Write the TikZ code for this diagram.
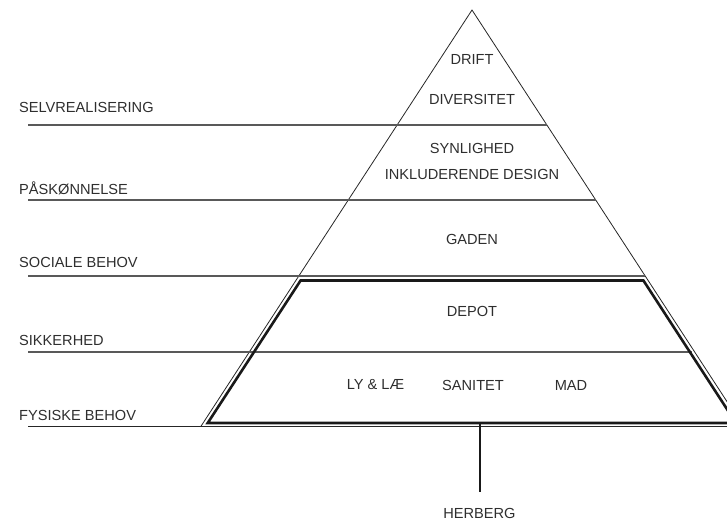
\documentclass[tikz,border=0pt]{standalone}
\usepackage{fontspec}
\setmainfont{Liberation Sans}
\begin{document}
\begin{tikzpicture}[x=1pt,y=-1pt,
  lbl/.style={font=\fontsize{14.6}{16}\selectfont, text=black!82, inner sep=0pt},
  thinline/.style={draw=black!85, line width=0.8pt},
  levelline/.style={draw=black!65, line width=1.2pt},
  thickline/.style={draw=black!90, line width=2.6pt, line join=miter},
  stem/.style={draw=black!90, line width=2.4pt}]
\useasboundingbox (0,0) rectangle (727,523);
\clip (0,0) rectangle (727,523);
% pyramid corners
\coordinate (apex) at (472,10);
\coordinate (bl) at (200.8,426.5);
\coordinate (br) at (743.2,426.5);
% pyramid outline
\draw[thinline] (bl) -- (apex) -- (br);
% level lines
\coordinate (l1a) at (28,125);  \coordinate (l1b) at (547,125);
\coordinate (l2a) at (28,200);  \coordinate (l2b) at (595.9,200);
\coordinate (l3a) at (28,276);  \coordinate (l3b) at (645.4,276);
\coordinate (l4a) at (28,352);  \coordinate (l4b) at (692,352);
\coordinate (l5a) at (28,426.5);\coordinate (l5b) at (740,426.5);
\draw[levelline] (l1a) -- (l1b);
\draw[levelline] (l2a) -- (l2b);
\draw[levelline] (l3a) -- (l3b);
\draw[levelline] (l4a) -- (l4b);
\draw[thinline, line width=1pt] (l5a) -- (l5b);
% thick trapezoid (herberg)
\coordinate (ttl) at (300.6,280.5);
\coordinate (ttr) at (643.4,280.5);
\coordinate (tbr) at (736,423);
\coordinate (tbl) at (207.7,423);
\draw[thickline] (ttl) -- (ttr) -- (tbr) -- (tbl) -- cycle;
% left labels
\node[lbl, anchor=base west] (selv) at (19,112.7) {SELVREALISERING};
\node[lbl, anchor=base west] (pask) at (19,194) {PÅSKØNNELSE};
\node[lbl, anchor=base west] (soc)  at (19,267) {SOCIALE BEHOV};
\node[lbl, anchor=base west] (sik)  at (19,345) {SIKKERHED};
\node[lbl, anchor=base west] (fys)  at (19,420) {FYSISKE BEHOV};
% pyramid texts
\node[lbl] (drift) at (472,59) {DRIFT};
\node[lbl] (div) at (472,99) {DIVERSITET};
\node[lbl] (syn) at (472,148) {SYNLIGHED};
\node[lbl] (ink) at (472,174) {INKLUDERENDE DESIGN};
\node[lbl] (gaden) at (472,239.5) {GADEN};
\node[lbl] (depot) at (472,311) {DEPOT};
\node[lbl] (ly) at (375.5,385) {LY \& LÆ};
\node[lbl] (san) at (473,385) {SANITET};
\node[lbl] (mad) at (571,385) {MAD};
\node[lbl] (herberg) at (479.5,513.5) {HERBERG};
% stem
\coordinate (stemtop) at (480,423);
\coordinate (stembot) at (480,492);
\draw[stem] (stemtop) -- (stembot);
\end{tikzpicture}
\end{document}
